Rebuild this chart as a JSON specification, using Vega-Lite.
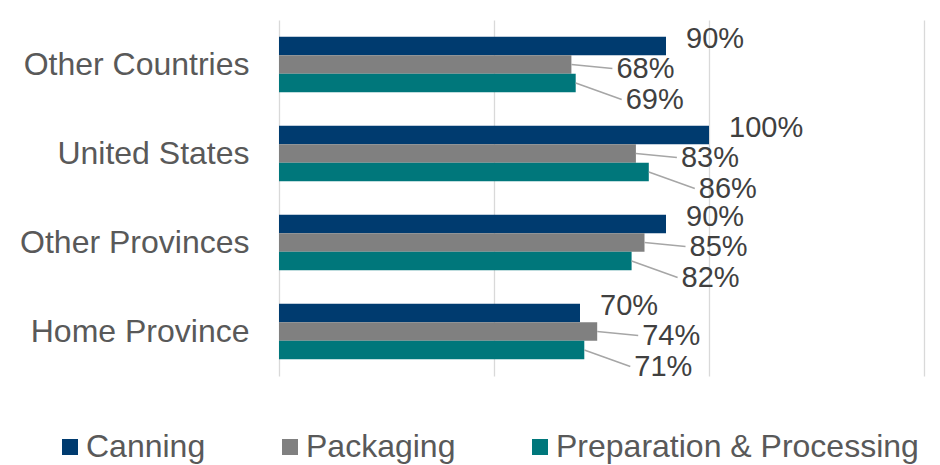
{
  "$schema": "https://vega.github.io/schema/vega-lite/v6.json",
  "width": 645,
  "height": 356,
  "autosize": {"type": "none"},
  "padding": {"left": 279, "top": 20, "right": 16, "bottom": 89},
  "background": "white",
  "config": {
    "view": {"stroke": null},
    "font": "Liberation Sans"
  },
  "data": {
    "values": [
      {"region": "Other Countries", "process": "Canning", "share": 0.90},
      {"region": "Other Countries", "process": "Packaging", "share": 0.68},
      {"region": "Other Countries", "process": "Preparation & Processing", "share": 0.69},
      {"region": "United States", "process": "Canning", "share": 1.00},
      {"region": "United States", "process": "Packaging", "share": 0.83},
      {"region": "United States", "process": "Preparation & Processing", "share": 0.86},
      {"region": "Other Provinces", "process": "Canning", "share": 0.90},
      {"region": "Other Provinces", "process": "Packaging", "share": 0.85},
      {"region": "Other Provinces", "process": "Preparation & Processing", "share": 0.82},
      {"region": "Home Province", "process": "Canning", "share": 0.70},
      {"region": "Home Province", "process": "Packaging", "share": 0.74},
      {"region": "Home Province", "process": "Preparation & Processing", "share": 0.71}
    ]
  },
  "encoding": {
    "y": {
      "field": "region",
      "type": "nominal",
      "sort": ["Other Countries", "United States", "Other Provinces", "Home Province"],
      "scale": {"paddingInner": 0.376, "paddingOuter": 0.188},
      "axis": {
        "title": null,
        "domain": false,
        "ticks": false,
        "labelPadding": 30,
        "labelFontSize": 32,
        "labelColor": "#595959",
        "labelFont": "Liberation Sans",
        "labelLimit": 400
      }
    },
    "x": {
      "field": "share",
      "type": "quantitative",
      "scale": {"domain": [0, 1.5], "nice": false},
      "axis": {
        "title": null,
        "labels": false,
        "ticks": false,
        "domain": false,
        "values": [0, 0.5, 1, 1.5],
        "gridColor": "#D9D9D9",
        "gridWidth": 1.3
      }
    }
  },
  "layer": [
    {
      "mark": {"type": "bar"},
      "encoding": {
        "yOffset": {
          "field": "process",
          "type": "nominal",
          "sort": ["Canning", "Packaging", "Preparation & Processing"],
          "scale": {"paddingInner": 0, "paddingOuter": 0}
        },
        "color": {
          "field": "process",
          "type": "nominal",
          "scale": {
            "domain": ["Canning", "Packaging", "Preparation & Processing"],
            "range": ["#003B6F", "#808080", "#00777B"]
          },
          "legend": {
            "title": null,
            "orient": "none",
            "direction": "horizontal",
            "legendX": -225,
            "legendY": 411,
            "padding": 0,
            "symbolType": "square",
            "symbolSize": 256,
            "symbolStrokeWidth": 0,
            "labelOffset": 0,
            "columnPadding": 68,
            "labelFontSize": 32,
            "labelColor": "#595959",
            "labelFont": "Liberation Sans",
            "labelLimit": 500
          }
        }
      }
    },
    {
      "transform": [{"filter": "datum.process === 'Packaging'"}],
      "mark": {"type": "rule", "color": "#A6A6A6", "strokeWidth": 1.5, "x2Offset": 41, "yOffset": 0, "y2Offset": 4},
      "encoding": {
        "x2": {"field": "share"},
        "y2": {"field": "region"}
      }
    },
    {
      "transform": [{"filter": "datum.process === 'Preparation & Processing'"}],
      "mark": {"type": "rule", "color": "#A6A6A6", "strokeWidth": 1.5, "x2Offset": 46, "yOffset": 18.5, "y2Offset": 35},
      "encoding": {
        "x2": {"field": "share"},
        "y2": {"field": "region"}
      }
    },
    {
      "transform": [{"filter": "datum.process === 'Canning'"}],
      "mark": {"type": "text", "align": "left", "baseline": "middle", "dx": 20, "dy": -26, "fontSize": 29, "color": "#404040", "font": "Liberation Sans"},
      "encoding": {"text": {"field": "share", "format": ".0%"}}
    },
    {
      "transform": [{"filter": "datum.process === 'Packaging'"}],
      "mark": {"type": "text", "align": "left", "baseline": "middle", "dx": 45, "dy": 4, "fontSize": 29, "color": "#404040", "font": "Liberation Sans"},
      "encoding": {"text": {"field": "share", "format": ".0%"}}
    },
    {
      "transform": [{"filter": "datum.process === 'Preparation & Processing'"}],
      "mark": {"type": "text", "align": "left", "baseline": "middle", "dx": 50, "dy": 35, "fontSize": 29, "color": "#404040", "font": "Liberation Sans"},
      "encoding": {"text": {"field": "share", "format": ".0%"}}
    }
  ]
}
